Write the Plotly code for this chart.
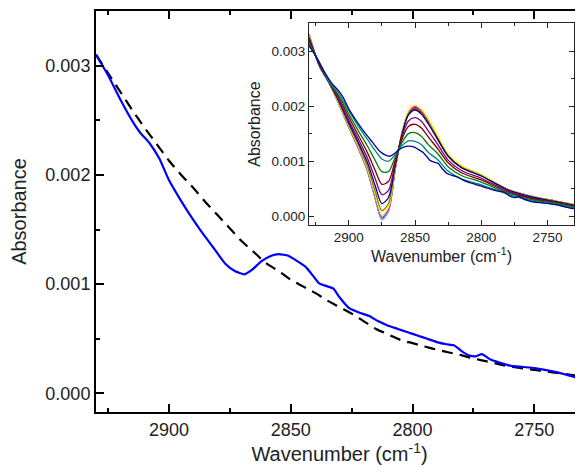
import numpy as np
import plotly.graph_objects as go

# ---------------- data (absorbance in units of 1e-3) ----------------
# Main panel: measured spectrum (blue)
wn_main = [2930, 2925, 2920, 2915, 2912, 2908, 2904, 2900, 2895, 2891, 2887, 2882,
           2877, 2873, 2869, 2866, 2862, 2858, 2855, 2851, 2848, 2844, 2841, 2838.5,
           2835, 2832.5, 2830, 2826, 2822, 2818, 2814, 2810, 2806, 2802, 2798, 2794,
           2790, 2786, 2783, 2780, 2777, 2774, 2771.5, 2768, 2764, 2760, 2756, 2752,
           2748, 2744, 2740, 2736, 2733, 2730]
abs_main = [3.10, 2.91, 2.69, 2.49, 2.39, 2.29, 2.15, 1.95, 1.76, 1.62, 1.49, 1.34,
            1.19, 1.12, 1.09, 1.13, 1.21, 1.26, 1.275, 1.26, 1.22, 1.16, 1.08, 1.01,
            0.98, 0.96, 0.88, 0.78, 0.74, 0.71, 0.66, 0.62, 0.59, 0.56, 0.53, 0.50,
            0.47, 0.45, 0.44, 0.39, 0.35, 0.34, 0.36, 0.31, 0.28, 0.255, 0.245, 0.237,
            0.225, 0.21, 0.19, 0.165, 0.148, 0.137]

# Main panel: baseline (dashed)
wn_base = [2930, 2925, 2920, 2915, 2910, 2905, 2900, 2895, 2890, 2885, 2880, 2875,
           2870, 2865, 2860, 2855, 2850, 2845, 2840, 2835, 2830, 2825, 2820, 2815,
           2810, 2805, 2800, 2795, 2790, 2785, 2780, 2775, 2770, 2765, 2760, 2755,
           2750, 2745, 2740, 2735, 2730]
abs_base = [3.10, 2.93, 2.76, 2.59, 2.43, 2.28, 2.13, 2.00, 1.88, 1.75, 1.63, 1.51,
            1.39, 1.29, 1.19, 1.12, 1.04, 0.98, 0.92, 0.85, 0.79, 0.73, 0.66, 0.59,
            0.54, 0.49, 0.46, 0.43, 0.40, 0.375, 0.35, 0.32, 0.295, 0.27, 0.245, 0.23,
            0.215, 0.20, 0.185, 0.17, 0.155]

# Inset: series of spectra
wn_inset = [2930, 2922, 2915, 2908, 2900, 2893, 2886, 2880, 2875, 2870, 2865, 2860,
            2855, 2850, 2845, 2840, 2833, 2825, 2815, 2800, 2780, 2760, 2745, 2730]
abs_black = [3.29, 2.72, 2.43, 2.07, 1.62, 1.25, 0.84, 0.33, -0.05, 0.11, 0.85, 1.48,
             1.86, 1.96, 1.88, 1.71, 1.42, 1.10, 0.89, 0.74, 0.48, 0.34, 0.28, 0.20]
abs_red = [3.31, 2.72, 2.43, 2.07, 1.62, 1.25, 0.83, 0.32, -0.06, 0.10, 0.85, 1.49,
           1.88, 1.98, 1.90, 1.73, 1.44, 1.11, 0.90, 0.74, 0.49, 0.35, 0.28, 0.21]
abs_cyan = [3.29, 2.72, 2.43, 2.07, 1.62, 1.25, 0.83, 0.32, -0.06, 0.10, 0.85, 1.50,
            1.90, 2.00, 1.92, 1.75, 1.45, 1.12, 0.91, 0.75, 0.49, 0.35, 0.28, 0.21]
abs_magenta = [3.28, 2.72, 2.43, 2.08, 1.63, 1.26, 0.85, 0.35, -0.02, 0.13, 0.86, 1.50,
               1.89, 1.99, 1.91, 1.74, 1.45, 1.12, 0.91, 0.75, 0.49, 0.35, 0.28, 0.21]
abs_yellow = [3.28, 2.73, 2.43, 2.08, 1.64, 1.28, 0.87, 0.39, 0.02, 0.17, 0.87, 1.51,
              1.92, 2.02, 1.94, 1.77, 1.47, 1.13, 0.92, 0.76, 0.49, 0.35, 0.28, 0.21]
abs_dkyellow = [3.27, 2.73, 2.43, 2.10, 1.66, 1.31, 0.91, 0.45, 0.10, 0.23, 0.89, 1.48,
                1.86, 1.95, 1.87, 1.70, 1.42, 1.10, 0.89, 0.74, 0.48, 0.34, 0.28, 0.20]
abs_navy = [3.24, 2.74, 2.44, 2.12, 1.70, 1.35, 0.98, 0.55, 0.23, 0.34, 0.92, 1.47,
            1.84, 1.93, 1.85, 1.68, 1.40, 1.09, 0.88, 0.73, 0.48, 0.34, 0.27, 0.20]
abs_purple = [3.22, 2.75, 2.44, 2.14, 1.74, 1.41, 1.06, 0.68, 0.39, 0.47, 0.96, 1.43,
              1.73, 1.79, 1.72, 1.55, 1.31, 1.02, 0.83, 0.69, 0.46, 0.32, 0.26, 0.19]
abs_wine = [3.19, 2.76, 2.44, 2.18, 1.80, 1.48, 1.16, 0.83, 0.58, 0.63, 1.01, 1.39,
            1.63, 1.67, 1.60, 1.44, 1.23, 0.97, 0.79, 0.66, 0.44, 0.31, 0.25, 0.18]
abs_olive = [3.15, 2.78, 2.44, 2.21, 1.86, 1.56, 1.28, 1.01, 0.81, 0.81, 1.07, 1.33,
             1.50, 1.52, 1.45, 1.30, 1.14, 0.90, 0.74, 0.62, 0.42, 0.29, 0.24, 0.16]
abs_dkcyan = [3.12, 2.79, 2.45, 2.25, 1.92, 1.64, 1.40, 1.19, 1.04, 1.00, 1.12, 1.28,
              1.37, 1.36, 1.30, 1.16, 1.03, 0.82, 0.68, 0.57, 0.40, 0.27, 0.22, 0.15]

inset_series = [
    (abs_black, "#000000"), (abs_red, "#FF0000"), (abs_cyan, "#00FFFF"),
    (abs_magenta, "#FF00FF"), (abs_yellow, "#FFFF00"), (abs_dkyellow, "#808000"),
    (abs_navy, "#000080"), (abs_purple, "#800080"), (abs_wine, "#800000"),
    (abs_olive, "#008000"), (abs_dkcyan, "#008080"),
]

x_range = [2930, 2730]
y_range = [-0.00017, 0.0035]
y_range_inset = [-0.00016, 0.00351]
x_ticks = [2900, 2850, 2800, 2750]
y_ticks = [0.0, 0.001, 0.002, 0.003]

to_abs = 1e-3

fig = go.Figure()

# main panel
fig.add_trace(go.Scatter(x=wn_base, y=np.array(abs_base) * to_abs, mode="lines",
                         line=dict(color="black", width=2.2, dash="11px,7px", shape="spline"),
                         xaxis="x", yaxis="y", showlegend=False))
fig.add_trace(go.Scatter(x=wn_main, y=np.array(abs_main) * to_abs, mode="lines",
                         line=dict(color="#0000FF", width=2.2, shape="spline", smoothing=0.5),
                         xaxis="x", yaxis="y", showlegend=False))

# inset
for vals, col in inset_series:
    fig.add_trace(go.Scatter(x=wn_inset, y=np.array(vals) * to_abs, mode="lines",
                             line=dict(color=col, width=1.3, shape="spline", smoothing=0.8),
                             xaxis="x2", yaxis="y2", showlegend=False))
fig.add_trace(go.Scatter(x=wn_main, y=np.array(abs_main) * to_abs, mode="lines",
                         line=dict(color="#0000A0", width=1.3, shape="spline", smoothing=0.5),
                         xaxis="x2", yaxis="y2", showlegend=False))

FONT = "Liberation Sans, Arial, sans-serif"

common_main = dict(showline=True, linecolor="black", linewidth=2, mirror="ticks",
                   ticks="inside", ticklen=8, tickwidth=2, tickcolor="black",
                   showgrid=False, zeroline=False, automargin=False,
                   tickfont=dict(family=FONT, size=18, color="#222"))
common_inset = dict(showline=True, linecolor="#222", linewidth=1.2, mirror="ticks",
                    ticks="inside", ticklen=5, tickwidth=1.2, tickcolor="#222",
                    showgrid=False, zeroline=False, automargin=False,
                    tickfont=dict(family=FONT, size=13.5, color="#222"))

# page body has an 8px offset, so the figure is shifted to compensate
fig.update_layout(
    width=575, height=464,
    margin=dict(l=88, r=0, t=3, b=60, autoexpand=False),
    paper_bgcolor="white", plot_bgcolor="white",
    font=dict(family=FONT, color="#222"),
    xaxis=dict(range=x_range, tickvals=x_ticks, domain=[0, 1],
               title=dict(text="Wavenumber (cm<sup>-1</sup>)", font=dict(size=20), standoff=4),
               minor=dict(dtick=25, ticks="inside", ticklen=4, tickwidth=2, tickcolor="black"),
               **common_main),
    yaxis=dict(range=y_range, tickvals=y_ticks, tickformat=".3f", domain=[0, 1],
               title=dict(text="Absorbance", font=dict(size=20), standoff=14),
               minor=dict(dtick=0.0005, ticks="inside", ticklen=4, tickwidth=2, tickcolor="black"),
               **common_main),
    xaxis2=dict(range=x_range, tickvals=x_ticks, domain=[0.4374, 0.9815], anchor="y2",
                title=dict(text="Wavenumber (cm<sup>-1</sup>)", font=dict(size=16), standoff=2),
                minor=dict(dtick=25, ticks="inside", ticklen=3, tickwidth=1.2, tickcolor="#222"),
                **common_inset),
    yaxis2=dict(range=y_range_inset, tickvals=y_ticks, tickformat=".3f",
                domain=[0.4663, 0.970], anchor="x2",
                title=dict(text="Absorbance", font=dict(size=16), standoff=6),
                minor=dict(dtick=0.0005, ticks="inside", ticklen=3, tickwidth=1.2, tickcolor="#222"),
                **common_inset),
)

fig.write_html("out.html")
